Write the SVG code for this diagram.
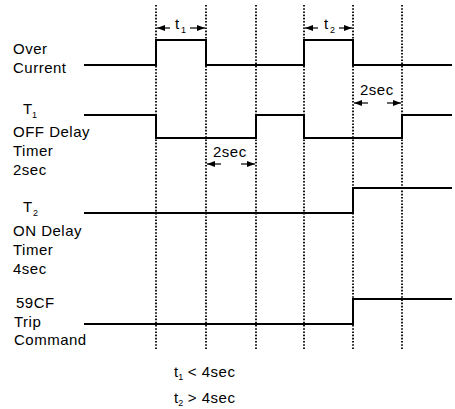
<svg xmlns="http://www.w3.org/2000/svg" width="455" height="409" viewBox="0 0 455 409">
<defs>
<marker id="ah" viewBox="0 0 8 6" refX="8" refY="3" markerWidth="8" markerHeight="6" markerUnits="userSpaceOnUse" orient="auto">
<path d="M0,0 L8,3 L0,6 z" fill="#000"/>
</marker>
<style>
text{font-family:"Liberation Sans",Arial,sans-serif;font-size:15px;letter-spacing:0.5px;fill:#000}
.sub{font-size:9px;letter-spacing:0}
.sig{fill:none;stroke:#000;stroke-width:2}
.dot{fill:none;stroke:#000;stroke-width:1.8;stroke-dasharray:1.6,1.6}
.arr{fill:none;stroke:#000;stroke-width:1.2;marker-end:url(#ah)}
</style>
</defs>
<rect width="455" height="409" fill="#fff"/>
<g id="gridlines">
<line class="dot" x1="156" y1="5" x2="156" y2="350"/>
<line class="dot" x1="206" y1="5" x2="206" y2="350"/>
<line class="dot" x1="256" y1="5" x2="256" y2="350"/>
<line class="dot" x1="304" y1="5" x2="304" y2="350"/>
<line class="dot" x1="353" y1="5" x2="353" y2="350"/>
<line class="dot" x1="402" y1="5" x2="402" y2="350"/>
</g>
<g id="over-current">
<text x="13" y="54">Over</text>
<text x="13" y="73">Current</text>
<path class="sig" d="M84,65 H156 V40 H206 V65 H304 V40 H353 V65 H452"/>
</g>
<g id="t1-timer">
<text x="23" y="114" letter-spacing="0">T</text><text class="sub" x="32" y="118">1</text>
<text x="13" y="137">OFF Delay</text>
<text x="13" y="156">Timer</text>
<text x="13" y="175">2sec</text>
<path class="sig" d="M84,115 H156 V138 H256 V115 H304 V138 H402 V115 H452"/>
</g>
<g id="t2-timer">
<text x="23" y="212" letter-spacing="0">T</text><text class="sub" x="33" y="216">2</text>
<text x="13" y="236">ON Delay</text>
<text x="13" y="255">Timer</text>
<text x="13" y="274">4sec</text>
<path class="sig" d="M84,213 H353 V188 H452"/>
</g>
<g id="trip-59cf">
<text x="16" y="308">59CF</text>
<text x="14" y="327">Trip</text>
<text x="14" y="345">Command</text>
<path class="sig" d="M84,324 H353 V299 H452"/>
</g>
<g id="connectors">
<line class="arr" x1="170" y1="28" x2="157" y2="28"/>
<line class="arr" x1="190" y1="28" x2="205" y2="28"/>
<line class="arr" x1="318" y1="28" x2="305" y2="28"/>
<line class="arr" x1="339" y1="28" x2="352" y2="28"/>
<line class="arr" x1="221" y1="164" x2="207" y2="164"/>
<line class="arr" x1="241" y1="164" x2="255" y2="164"/>
<line class="arr" x1="368" y1="103" x2="354" y2="103"/>
<line class="arr" x1="387" y1="103" x2="401" y2="103"/>
</g>
<g id="labels">
<text x="175" y="29" letter-spacing="0">t</text><text class="sub" x="181" y="33">1</text>
<text x="324" y="29" letter-spacing="0">t</text><text class="sub" x="330" y="33">2</text>
<text x="213" y="157">2sec</text>
<text x="360" y="95">2sec</text>
<text x="174" y="377" letter-spacing="1"><tspan letter-spacing="0">t</tspan><tspan class="sub" dy="3">1</tspan><tspan dy="-3"> &lt; 4sec</tspan></text>
<text x="174" y="403" letter-spacing="1"><tspan letter-spacing="0">t</tspan><tspan class="sub" dy="3">2</tspan><tspan dy="-3"> &gt; 4sec</tspan></text>
</g>
</svg>
